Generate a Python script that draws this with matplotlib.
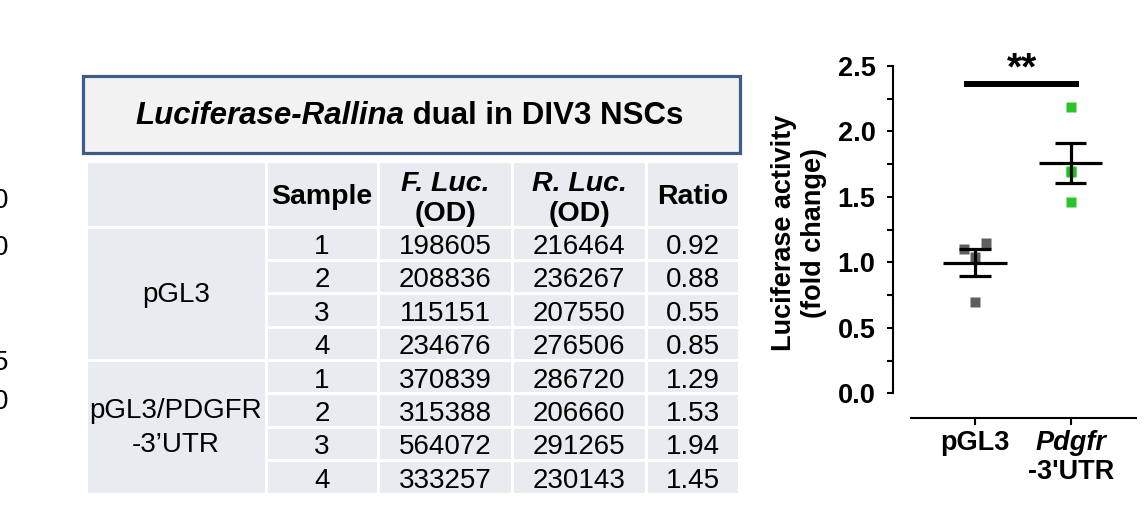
import numpy as np
import matplotlib
matplotlib.use("Agg")
import matplotlib.pyplot as plt
from matplotlib.patches import Rectangle
from matplotlib.ticker import MultipleLocator

plt.rcParams['font.family'] = ['Liberation Sans', 'DejaVu Sans']

# ---------------- data ----------------
table_title_italic = "Luciferase-Rallina"
table_title_rest = " dual in DIV3 NSCs"
groups = ["pGL3", "pGL3/PDGFR\n-3\u2019UTR"]
samples = ["1", "2", "3", "4", "1", "2", "3", "4"]
f_luc = ["198605", "208836", "115151", "234676", "370839", "315388", "564072", "333257"]
r_luc = ["216464", "236267", "207550", "276506", "286720", "206660", "291265", "230143"]
ratio = ["0.92", "0.88", "0.55", "0.85", "1.29", "1.53", "1.94", "1.45"]

categories = ["pGL3", "Pdgfr"]
pgl3_vals = [1.10, 1.04, 0.695, 1.15]
pgl3_jitter = [-0.12, 0.0, 0.0, 0.12]
pdgfr_vals = [2.19, 1.70, 1.69, 1.46]
pdgfr_jitter = [0.0, 0.0, 0.0, 0.0]
sig_label = "**"

left_fragments = ["0", "0", "5", "0"]
left_fragment_y = [201, 248, 363, 402]

# ---------------- figure ----------------
W, H = 1144, 507
fig = plt.figure(figsize=(W / 100, H / 100), dpi=100)

# overlay axes in pixel coordinates for the table
ov = fig.add_axes([0, 0, 1, 1])
ov.set_xlim(0, W)
ov.set_ylim(H, 0)
ov.axis('off')

FS = 20
# fragments of a neighbouring panel at left edge
for s, y in zip(left_fragments, left_fragment_y):
    ov.text(8, y, s, ha='right', va='center', fontsize=FS, color='black', clip_on=False)

# title box
ov.add_patch(Rectangle((83, 76), 740 - 83, 153 - 76, facecolor='#f2f2f2',
                       edgecolor='#3d5d88', lw=2.3))
t1 = ov.text(135, 116, table_title_italic, ha='left', va='center', fontsize=22.5,
             fontweight='bold', style='italic')
ov.annotate(table_title_rest, xy=(1, 0.5), xycoords=t1, ha='left', va='center',
            fontsize=22.5, fontweight='bold')

# table grid
col_edges = [86, 266, 378, 512, 646, 739]
header_top, header_bot = 161, 227
nrows = len(samples)
row_h = (494 - header_bot) / nrows
cell_color = '#e8ecf1'
gap = 1.5

def cell(x0, x1, y0, y1):
    ov.add_patch(Rectangle((x0 + gap, y0 + gap), x1 - x0 - 2 * gap, y1 - y0 - 2 * gap,
                           facecolor=cell_color, edgecolor='none'))

# header cells
for c in range(5):
    cell(col_edges[c], col_edges[c + 1], header_top, header_bot)
# group cells
for g in range(2):
    y0 = header_bot + g * 4 * row_h
    cell(col_edges[0], col_edges[1], y0, y0 + 4 * row_h)
# body cells
for r in range(nrows):
    y0 = header_bot + r * row_h
    for c in range(1, 5):
        cell(col_edges[c], col_edges[c + 1], y0, y0 + row_h)

def cx(c):
    return (col_edges[c] + col_edges[c + 1]) / 2

HFS = 20.5
ov.text(cx(1), 204, "Sample", ha='center', va='baseline', fontsize=HFS, fontweight='bold')
ov.text(cx(2), 191, "F. Luc.", ha='center', va='baseline', fontsize=HFS,
        fontweight='bold', style='italic')
ov.text(cx(2), 221, "(OD)", ha='center', va='baseline', fontsize=HFS, fontweight='bold')
ov.text(cx(3), 191, "R. Luc.", ha='center', va='baseline', fontsize=HFS,
        fontweight='bold', style='italic')
ov.text(cx(3), 221, "(OD)", ha='center', va='baseline', fontsize=HFS, fontweight='bold')
ov.text(cx(4), 204, "Ratio", ha='center', va='baseline', fontsize=HFS, fontweight='bold')

for g, name in enumerate(groups):
    yc = header_bot + (g * 4 + 2) * row_h
    ov.text(cx(0), yc + 1, name, ha='center', va='center', fontsize=FS,
            multialignment='center', linespacing=1.4)

for r in range(nrows):
    yb = header_bot + r * row_h + 27
    for c, col in zip(range(1, 5), [samples, f_luc, r_luc, ratio]):
        ov.text(cx(c), yb, col[r], ha='center', va='baseline', fontsize=FS)

# ---------------- scatter plot ----------------
ax_l, ax_r = 892.7, 1136.0
ax_t, ax_b = 66.0, 393.3
ax = fig.add_axes([ax_l / W, (H - ax_b) / H, (ax_r - ax_l) / W, (ax_b - ax_t) / H])
ax.patch.set_alpha(0)
ax.set_ylim(0, 2.5)
unit = 1070.7 - 975.0
xmin = 0 - (975.0 - ax_l) / unit
xmax = 1 + (ax_r - 1070.7) / unit
ax.set_xlim(xmin, xmax)

groups_vals = [pgl3_vals, pdgfr_vals]
jitters = [pgl3_jitter, pdgfr_jitter]
colors = ['#555555', '#1ec21e']
for i, (vals, jit, col) in enumerate(zip(groups_vals, jitters, colors)):
    xs = i + np.array(jit)
    ax.plot(xs, vals, 's', ms=7.6, color=col, mec='none', alpha=0.95, zorder=2, clip_on=False)
    m = np.mean(vals)
    sem = np.std(vals, ddof=1) / np.sqrt(len(vals))
    ax.hlines(m, i - 0.33, i + 0.33, color='black', lw=2.3, zorder=3)
    ax.hlines([m - sem, m + sem], i - 0.164, i + 0.164, color='black', lw=2.3, zorder=3)
    ax.vlines(i, m - sem, m + sem, color='black', lw=2.3, zorder=3)

# significance bar
ax.plot([-0.115, 1.087], [2.36, 2.36], color='black', lw=4.3, solid_capstyle='butt',
        clip_on=False)
ax.text(0.49, 2.47, sig_label, ha='center', va='center', fontsize=28, fontweight='bold',
        clip_on=False)

for s in ['top', 'right']:
    ax.spines[s].set_visible(False)
ax.spines['left'].set_linewidth(1.5)
ax.spines['bottom'].set_linewidth(1.5)
ax.spines['bottom'].set_position(('outward', 18))
ax.spines['bottom'].set_bounds((911 - 975.0) / unit, xmax)

ax.yaxis.set_major_locator(MultipleLocator(0.5))
ax.yaxis.set_minor_locator(MultipleLocator(0.25))
ax.set_yticks(np.arange(0, 2.51, 0.5))
ax.set_yticklabels([f"{v:.1f}" for v in np.arange(0, 2.51, 0.5)], fontsize=19.5,
                   fontweight='bold')
ax.tick_params(axis='y', which='major', length=4.3, width=1.5, pad=8)
ax.tick_params(axis='y', which='minor', length=4.3, width=1.5)
ax.set_xticks([0, 1])
ax.set_xticklabels(['', ''])
ax.tick_params(axis='x', which='major', length=5, width=1.5)

ax.annotate(categories[0], xy=(0, 0), xycoords=('data', 'axes fraction'),
            xytext=(0, -36), textcoords='offset points', ha='center', va='center',
            fontsize=19.5, fontweight='bold')
ax.annotate(categories[1], xy=(1, 0), xycoords=('data', 'axes fraction'),
            xytext=(0, -36), textcoords='offset points', ha='center', va='center',
            fontsize=19.5, fontweight='bold', style='italic')
ax.annotate("-3'UTR", xy=(1, 0), xycoords=('data', 'axes fraction'),
            xytext=(0, -57), textcoords='offset points', ha='center', va='center',
            fontsize=19.5, fontweight='bold')

ax.set_ylabel("Luciferase activity\n(fold change)", fontsize=19.5, fontweight='bold',
              linespacing=1.2)
ax.yaxis.set_label_coords((827 - ax_l) / (ax_r - ax_l), 0.49)

fig.savefig("out.png", dpi=100)
